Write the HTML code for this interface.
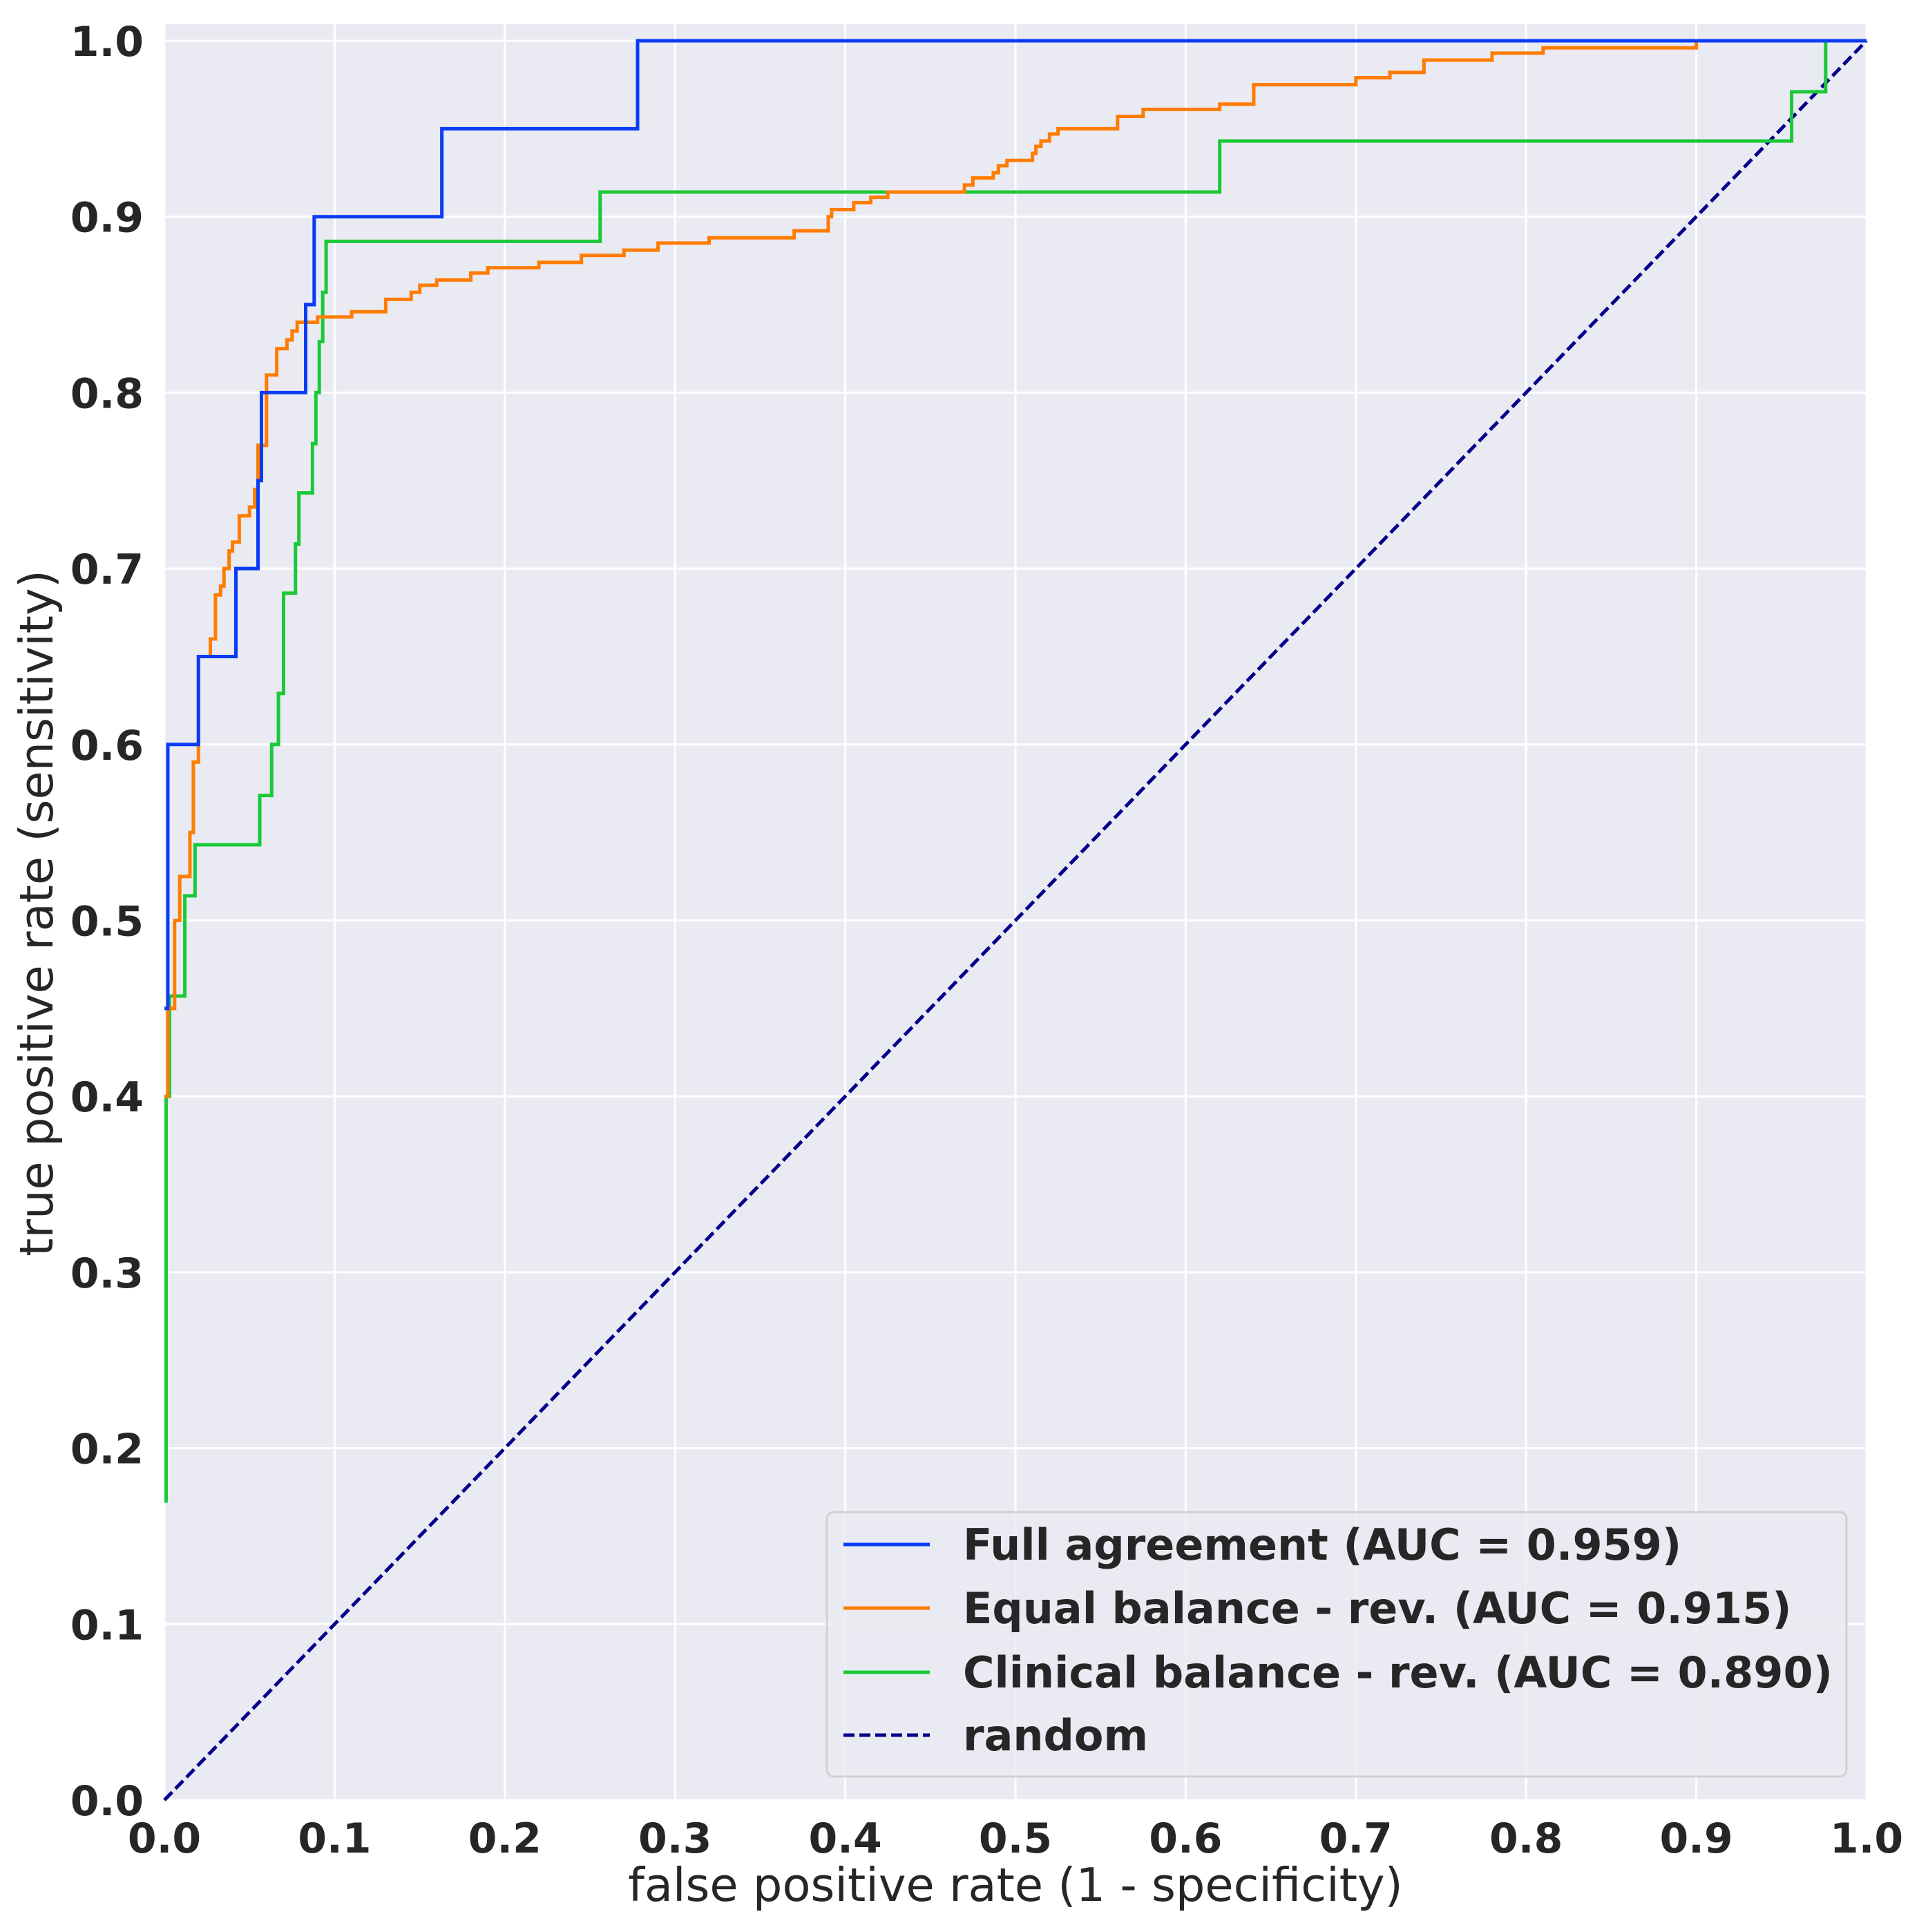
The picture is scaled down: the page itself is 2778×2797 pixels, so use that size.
<!DOCTYPE html>
<html><head><meta charset="utf-8"><style>
html,body{margin:0;padding:0;background:#fff}
svg{display:block}
text{font-family:"DejaVu Sans","Liberation Sans",sans-serif;fill:#262626}
.tick{font-weight:bold;font-size:60px}
.lab{font-size:67px}
.leg{font-weight:bold;font-size:62px}
</style></head><body>
<svg id="chart" width="2778" height="2797" viewBox="0 0 2778 2797" xmlns="http://www.w3.org/2000/svg">
<rect x="238" y="35" width="2465" height="2571" fill="#eaeaf2"/>
<g id="grid"></g>
<g id="series"></g>
<g id="ticks"></g>
<text class="lab" x="1470" y="2752" text-anchor="middle">false positive rate (1 - specificity)</text>
<text class="lab" transform="translate(76,1322) rotate(-90)" text-anchor="middle">true positive rate (sensitivity)</text>
<g>
<rect x="1197" y="2189" width="1476" height="383" rx="10" fill="#eaeaf2" fill-opacity="0.8" stroke="#d0d0d6" stroke-width="3"/>
<line x1="1221" x2="1346" y1="2236" y2="2236" stroke="#0a3cf5" stroke-width="5"/>
<text class="leg" x="1394" y="2258">Full agreement (AUC = 0.959)</text>
<line x1="1221" x2="1346" y1="2328" y2="2328" stroke="#ff7c00" stroke-width="5"/>
<text class="leg" x="1394" y="2350">Equal balance - rev. (AUC = 0.915)</text>
<line x1="1221" x2="1346" y1="2421" y2="2421" stroke="#1ac938" stroke-width="5"/>
<text class="leg" x="1394" y="2443">Clinical balance - rev. (AUC = 0.890)</text>
<line x1="1221" x2="1346" y1="2512" y2="2512" stroke="#00008b" stroke-width="5" stroke-dasharray="16,7"/>
<text class="leg" x="1394" y="2534">random</text>
</g>
</svg>
<script>
const tickValues = [0,0.1,0.2,0.3,0.4,0.5,0.6,0.7,0.8,0.9,1.0];
const tickLabels = ["0.0","0.1","0.2","0.3","0.4","0.5","0.6","0.7","0.8","0.9","1.0"];
const fullFpr = [0,0.002,0.02,0.042,0.055,0.057,0.083,0.088,0.163,0.278,1];
const fullTpr = [0.45,0.6,0.65,0.7,0.75,0.8,0.85,0.9,0.95,1.0,1.0];
const equalFpr = [0,0.002,0.006,0.009,0.015,0.017,0.02,0.027,0.03,0.033,0.035,0.038,0.04,0.044,0.05,0.053,0.055,0.06,0.066,0.072,0.075,0.078,0.09,0.11,0.13,0.145,0.15,0.16,0.18,0.19,0.22,0.245,0.27,0.29,0.32,0.37,0.39,0.392,0.405,0.415,0.425,0.47,0.475,0.487,0.49,0.495,0.51,0.512,0.515,0.52,0.525,0.56,0.575,0.62,0.64,0.7,0.72,0.74,0.78,0.81,0.9,1];
const equalTpr = [0.4,0.45,0.5,0.525,0.55,0.59,0.65,0.66,0.685,0.69,0.7,0.71,0.715,0.73,0.735,0.745,0.77,0.81,0.825,0.83,0.835,0.84,0.843,0.846,0.853,0.857,0.861,0.864,0.868,0.871,0.874,0.878,0.881,0.885,0.888,0.892,0.9,0.904,0.908,0.911,0.914,0.918,0.922,0.925,0.929,0.932,0.936,0.94,0.943,0.947,0.95,0.957,0.961,0.964,0.975,0.979,0.982,0.989,0.993,0.996,1.0,1.0];
const clinFpr = [0,0.001,0.003,0.012,0.018,0.056,0.063,0.067,0.07,0.077,0.079,0.087,0.089,0.091,0.093,0.095,0.256,0.62,0.956,0.976,1];
const clinTpr = [0.17,0.4,0.457,0.514,0.543,0.571,0.6,0.629,0.686,0.714,0.743,0.771,0.8,0.829,0.857,0.886,0.914,0.943,0.971,1.0,1.0];
const randomFpr = [0,1];
const randomTpr = [0,1];

const NS = "http://www.w3.org/2000/svg";
const X0=238, X1=2702, Y0=2606, Y1=59;
function sx(v){return X0+(X1-X0)*v;}
function sy(v){return Y0-(Y0-Y1)*v;}
function mk(tag, attrs, parent){const e=document.createElementNS(NS,tag);for(const k in attrs)e.setAttribute(k,attrs[k]);parent.appendChild(e);return e;}

const grid=document.getElementById('grid'), ticks=document.getElementById('ticks'), series=document.getElementById('series');
tickValues.forEach((v,i)=>{
  const gv=mk('line',{x1:sx(v),x2:sx(v),y1:35,y2:2606,stroke:'#fff','stroke-width':3},grid);
  
  
  const gh=mk('line',{x1:238,x2:2703,y1:sy(v),y2:sy(v),stroke:'#fff','stroke-width':3},grid);
  
  
  const tx=mk('text',{x:sx(v),y:2682,'text-anchor':'middle','class':'tick'},ticks);
  tx.textContent=tickLabels[i];
  
  
  const ty=mk('text',{x:208,y:sy(v)+22,'text-anchor':'end','class':'tick'},ticks);
  ty.textContent=tickLabels[i];
  
  
});
function stepPath(xs,ys){
  let d='M'+sx(xs[0])+','+sy(ys[0]);
  for(let i=1;i<xs.length;i++){d+=' H'+sx(xs[i])+' V'+sy(ys[i]);}
  return d;
}
const r=mk('path',{d:'M'+sx(randomFpr[0])+','+sy(randomTpr[0])+' L'+sx(randomFpr[1])+','+sy(randomTpr[1]),stroke:'#00008b','stroke-width':5,fill:'none','stroke-dasharray':'16,7'},series);


const c=mk('path',{d:stepPath(clinFpr,clinTpr),stroke:'#1ac938','stroke-width':5,fill:'none'},series);


const e=mk('path',{d:stepPath(equalFpr,equalTpr),stroke:'#ff7c00','stroke-width':5,fill:'none'},series);


const f=mk('path',{d:stepPath(fullFpr,fullTpr),stroke:'#0a3cf5','stroke-width':5,fill:'none'},series);


</script>
</body></html>
